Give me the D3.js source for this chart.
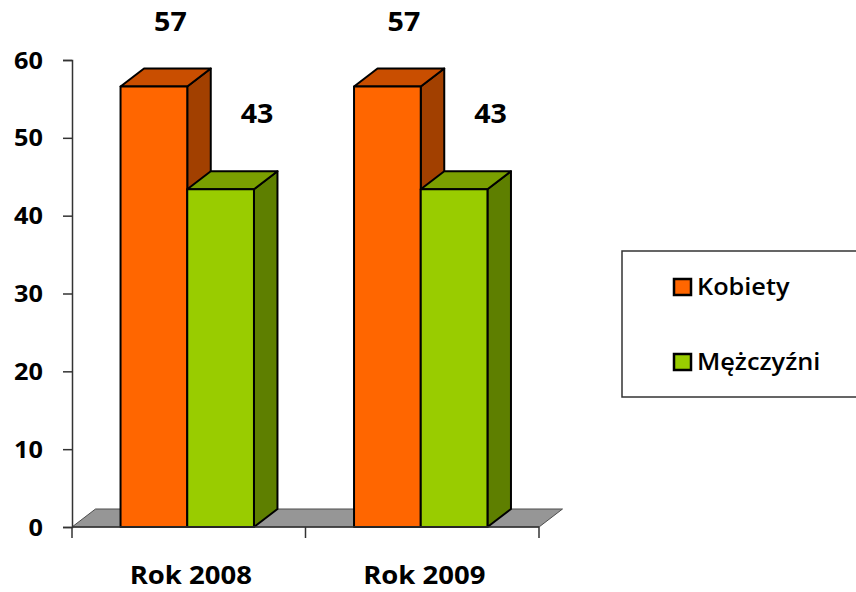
<!DOCTYPE html>
<html>
<head>
<meta charset="utf-8">
<script src="https://cdn.jsdelivr.net/npm/d3@7"></script>
<style>
  html, body { margin: 0; padding: 0; background: #ffffff; }
  svg { display: block; }
  text { font-family: "Open Sans", "Noto Sans", sans-serif; fill: #000; }
</style>
</head>
<body>
<svg id="chart" width="856" height="592"></svg>
<script>
// ---- data ----
const categories = ["Rok 2008", "Rok 2009"];
const seriesNames = ["Kobiety", "Mężczyźni"];
const kobiety = [56.6, 56.6];
const mezczyzni = [43.4, 43.4];
const yTicks = [0, 10, 20, 30, 40, 50, 60];

// ---- styles ----
const palette = {
  "Kobiety":   { front: "#FF6600", top: "#C94E00", side: "#A24000" },
  "Mężczyźni": { front: "#99CC00", top: "#7A9F00", side: "#5E7F00" }
};
const depth = { dx: 23.5, dy: -18 };
const textStretch = 1.1;

const series = [
  { name: "Kobiety", values: kobiety, labelDx: 15, labelDy: -55 },
  { name: "Mężczyźni", values: mezczyzni, labelDx: 35, labelDy: -66 }
];

const svg = d3.select("#chart");

const y = d3.scaleLinear().domain([0, 60]).range([527, 60]);
const x0 = d3.scaleBand().domain(categories).range([72, 539]).paddingInner(0).paddingOuter(0);
const x1 = d3.scaleBand().domain(seriesNames).range([0, x0.bandwidth()]).paddingInner(0).paddingOuter(0.75);

function stretchText(sel, tx, ty) {
  sel.attr("transform", (d, i) => `translate(${tx(d, i)},${ty(d, i)}) scale(${textStretch},1)`);
}

// ---- floor ----
const fx0 = x0.range()[0], fx1 = x0.range()[1], fy = y(0);
svg.append("path")
  .attr("d", d3.line()([
    [fx0, fy], [fx1, fy], [fx1 + depth.dx, fy + depth.dy], [fx0 + depth.dx, fy + depth.dy]
  ]) + "Z")
  .attr("fill", "#969696")
  .attr("stroke", "#4d4d4d")
  .attr("stroke-width", 1);

// ---- bars ----
const barsG = svg.append("g");
categories.forEach((cat, ci) => {
  series.forEach(s => {
    const v = s.values[ci];
    const xl = x0(cat) + x1(s.name) - 1.5;
    const xr = xl + x1.bandwidth();
    const yt = y(v), yb = y(0);
    const c = palette[s.name];
    const g = barsG.append("g")
      .attr("stroke", "#000").attr("stroke-width", 2).attr("stroke-linejoin", "round");
    g.append("path")
      .attr("d", d3.line()([[xr, yb], [xr + depth.dx, yb + depth.dy], [xr + depth.dx, yt + depth.dy], [xr, yt]]) + "Z")
      .attr("fill", c.side);
    g.append("path")
      .attr("d", d3.line()([[xl, yt], [xr, yt], [xr + depth.dx, yt + depth.dy], [xl + depth.dx, yt + depth.dy]]) + "Z")
      .attr("fill", c.top);
    g.append("rect")
      .attr("x", xl).attr("y", yt)
      .attr("width", xr - xl).attr("height", yb - yt)
      .attr("fill", c.front);
  });
});

// ---- value labels ----
categories.forEach((cat, ci) => {
  series.forEach(s => {
    const v = s.values[ci];
    const cx = x0(cat) + x1(s.name) + x1.bandwidth() / 2 + s.labelDx;
    svg.append("text")
      .datum(v)
      .attr("text-anchor", "middle")
      .attr("font-size", 26)
      .attr("font-weight", "bold")
      .text(d3.format(".0f")(v))
      .call(stretchText, () => cx, () => y(v) + s.labelDy);
  });
});

// ---- y axis ----
const yAxisG = svg.append("g").attr("transform", `translate(${x0.range()[0]},0)`)
  .call(d3.axisLeft(y).tickValues(yTicks).tickSize(9).tickPadding(0).tickFormat(d3.format("d")));
yAxisG.select(".domain").attr("stroke", "#333").attr("stroke-width", 1.5);
yAxisG.selectAll(".tick line").attr("stroke", "#333").attr("stroke-width", 1.5);
yAxisG.selectAll(".tick text")
  .attr("font-family", "'Open Sans', sans-serif")
  .attr("font-size", 23).attr("font-weight", "bold").attr("fill", "#000")
  .attr("x", null).attr("dy", null)
  .attr("text-anchor", "end")
  .attr("transform", `translate(-29,8) scale(${textStretch},1)`);

// ---- x axis ----
const xAxisG = svg.append("g").attr("transform", `translate(0,${y(0)})`);
xAxisG.append("line")
  .attr("x1", x0.range()[0]).attr("x2", x0.range()[1])
  .attr("y1", 0).attr("y2", 0)
  .attr("stroke", "#333").attr("stroke-width", 1.5);
const xTickPos = categories.map(c => x0(c)).concat([x0.range()[1]]);
xAxisG.selectAll("line.xt").data(xTickPos).join("line").attr("class", "xt")
  .attr("x1", d => d).attr("x2", d => d).attr("y1", 0).attr("y2", 11)
  .attr("stroke", "#333").attr("stroke-width", 1.5);
xAxisG.selectAll("text.cat").data(categories).join("text").attr("class", "cat")
  .attr("text-anchor", "middle")
  .attr("font-size", 25).attr("font-weight", "bold")
  .text(d => d)
  .call(stretchText, d => x0(d) + x0.bandwidth() / 2 + 2, () => 57);

// ---- legend ----
const legend = svg.append("g").attr("transform", "translate(622,251)");
legend.append("rect")
  .attr("x", 0).attr("y", 0).attr("width", 250).attr("height", 146)
  .attr("fill", "#fff").attr("stroke", "#333").attr("stroke-width", 1.5);
const li = legend.selectAll("g.item").data(seriesNames).join("g").attr("class", "item")
  .attr("transform", (d, i) => `translate(0,${i * 75})`);
li.append("rect")
  .attr("x", 52).attr("y", 28).attr("width", 17).attr("height", 16)
  .attr("fill", d => palette[d].front).attr("stroke", "#000").attr("stroke-width", 2.5);
li.append("text")
  .attr("font-size", 23).attr("font-weight", 600)
  .text(d => d)
  .call(stretchText, () => 75, () => 44);
</script>
</body>
</html>
